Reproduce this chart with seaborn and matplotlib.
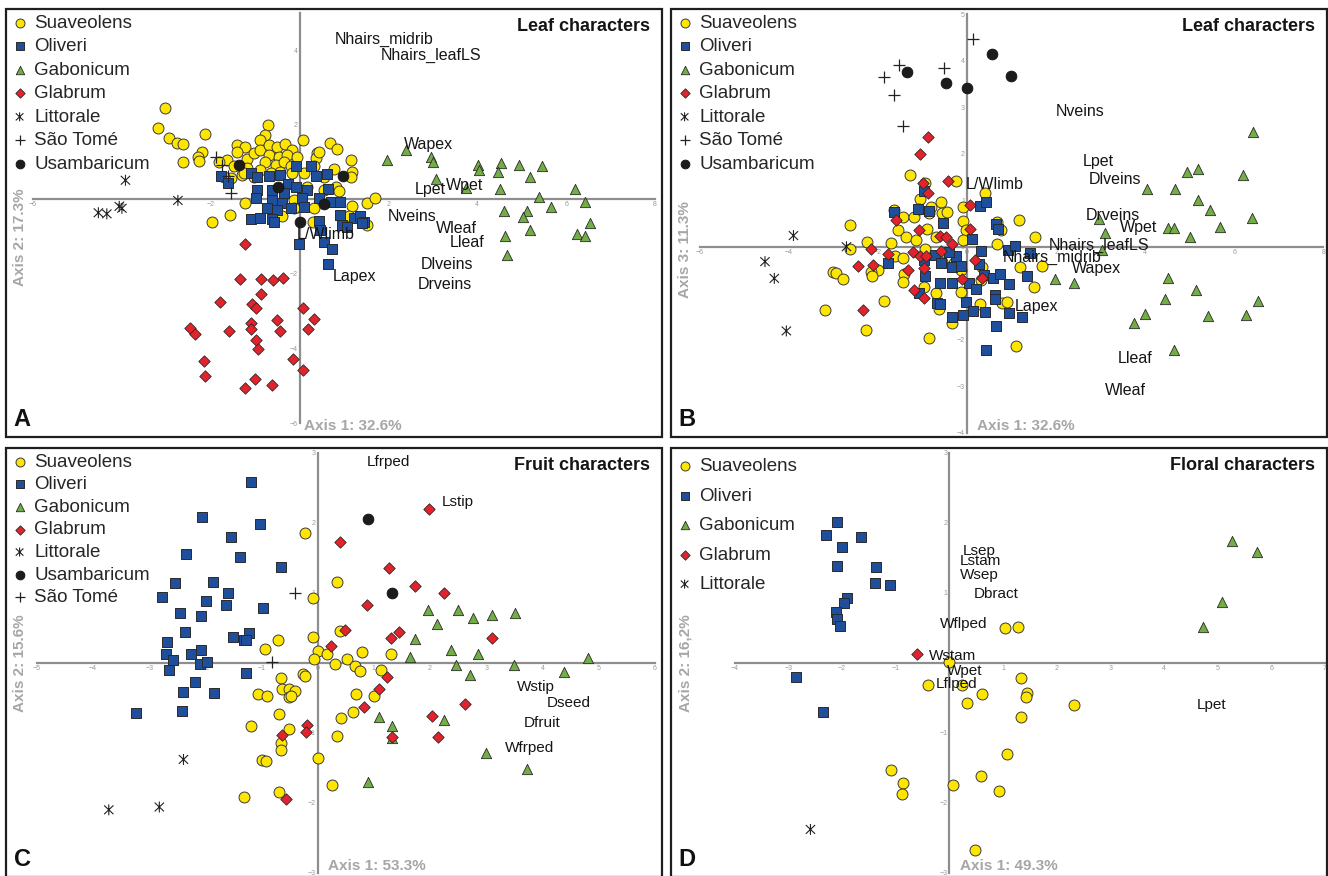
import numpy as np
import pandas as pd
import matplotlib.pyplot as plt
from matplotlib.patches import Rectangle
from matplotlib.path import Path
import seaborn as sns

# ---------------- panel A: leaf characters, axis 1 vs axis 2
a_suaveolens = [(-3.02, 2.46), (-3.19, 1.90), (-2.94, 1.63), (-2.77, 1.50), (-2.62, 1.48), (-2.63, 1.01),
                (-2.13, 1.75), (-2.19, 1.27), (-2.28, 1.14), (-2.26, 1.03), (-1.98, -0.60), (-1.57, -0.42),
                (-1.24, -0.11), (-0.71, 1.99), (-0.78, 1.72), (-0.89, 1.59), (-1.42, 1.46), (-1.22, 1.39),
                (-1.40, 1.28), (-1.63, 1.04), (-1.82, 1.01), (-1.48, 0.88), (-1.18, 1.07), (-1.03, 1.23),
                (-0.88, 1.32), (-0.69, 1.46), (-0.50, 1.41), (-0.32, 1.48), (-0.17, 1.32), (0.08, 1.59),
                (-0.69, 1.19), (-0.47, 1.14), (-0.28, 1.19), (-0.05, 1.14), (-0.77, 1.01), (-0.54, 0.92),
                (-0.35, 1.01), (-0.20, 0.88), (-0.88, 0.79), (-1.18, 0.83), (-1.29, 0.65), (-1.03, 0.61),
                (-0.65, 0.70), (-0.43, 0.74), (-0.17, 0.70), (0.10, 0.70), (0.40, 1.23), (0.36, 1.10),
                (0.68, 1.52), (0.85, 1.34), (0.44, 1.28), (0.32, 0.88), (0.77, 0.80), (1.15, 1.04),
                (1.17, 0.74), (1.16, 0.61), (0.55, 0.59), (0.81, 0.34), (0.89, 0.21), (1.19, -0.18),
                (1.52, -0.11), (1.69, 0.03), (1.52, -0.69), (1.11, -0.45), (0.32, -0.24), (-0.05, -0.20),
                (-0.13, -0.02), (-0.39, -0.46), (0.17, 0.34), (0.55, 0.25), (0.10, 0.21), (-1.25, 0.70),
                (-1.55, 0.56), (-1.70, 0.61), (0.30, -0.62), (-0.13, -0.24)]
a_oliveri = [(-1.78, 0.63), (-1.61, 0.45), (-1.10, 0.71), (-0.95, 0.59), (-0.68, 0.63), (-0.43, 0.65),
             (-0.26, 0.41), (-0.09, 0.89), (0.25, 0.88), (0.36, 0.63), (0.62, 0.68), (-0.95, 0.25),
             (-0.97, 0.03), (-0.62, 0.25), (-0.35, 0.16), (-0.09, 0.34), (0.17, 0.25), (0.65, 0.27),
             (-0.62, -0.02), (-0.39, -0.09), (0.06, 0.03), (0.44, 0.03), (0.70, -0.06), (0.92, -0.06),
             (-0.73, -0.24), (-0.50, -0.29), (-0.20, -0.24), (0.10, -0.20), (-1.10, -0.54), (-0.88, -0.49),
             (-0.62, -0.54), (-0.58, -0.60), (0.44, -0.57), (0.92, -0.42), (0.96, -0.69), (1.22, -0.51),
             (1.35, -0.46), (1.44, -0.60), (-0.02, -1.20), (0.55, -1.15), (0.73, -1.34), (0.63, -1.74),
             (0.46, -0.82), (1.06, -0.73), (1.41, -0.63)]
a_gabonicum = [(1.97, 1.04), (2.40, 1.32), (2.96, 1.14), (3.00, 0.99), (3.08, 0.54), (3.75, 0.29),
               (4.01, 0.92), (4.04, 0.79), (4.53, 0.96), (4.46, 0.74), (4.95, 0.91), (5.45, 0.89),
               (5.18, 0.61), (4.52, 0.27), (5.39, 0.07), (6.21, 0.27), (6.42, -0.06), (5.66, -0.20),
               (5.13, -0.31), (4.61, -0.32), (5.02, -0.47), (5.18, -0.82), (4.63, -0.98), (4.67, -1.49),
               (6.53, -0.63), (6.25, -0.93), (6.43, -0.98)]
a_glabrum = [(-1.23, -1.20), (-1.35, -2.14), (-0.87, -2.13), (-0.59, -2.16), (-0.37, -2.11), (-0.87, -2.55),
             (-1.79, -2.76), (-1.06, -2.80), (-0.98, -2.92), (0.07, -2.90), (-0.50, -3.23), (0.33, -3.21),
             (-2.47, -3.44), (-2.35, -3.61), (-1.59, -3.52), (-1.10, -3.32), (-1.10, -3.47), (-0.45, -3.54),
             (0.18, -3.48), (-0.99, -3.77), (-0.94, -4.00), (-2.16, -4.32), (-2.12, -4.74), (-0.14, -4.28),
             (0.07, -4.57), (-1.01, -4.81), (-1.22, -5.06), (-0.63, -4.97)]
a_littorale = [(-3.92, 0.51), (-2.74, -0.03), (-4.06, -0.19), (-4.00, -0.24), (-4.53, -0.36), (-4.34, -0.39)]
a_saotome = [(-1.88, 1.14), (-1.75, 0.92), (-1.62, 0.62), (-1.55, 0.18)]
a_usambaricum = [(-1.37, 0.91), (-0.48, 0.32), (0.98, 0.62), (0.56, -0.12), (0.0, -0.60)]
a_var_names = ['Nhairs_midrib', 'Nhairs_leafLS', 'Wapex', 'Lpet', 'Wpet', 'Nveins', 'Wleaf', 'Lleaf',
               'Dlveins', 'Drveins', 'L/Wlimb', 'Lapex']
a_var_x = [0.79, 1.82, 2.34, 2.59, 3.29, 1.99, 3.08, 3.37, 2.72, 2.66, -0.07, 0.75]
a_var_y = [4.29, 3.86, 1.46, 0.25, 0.36, -0.46, -0.79, -1.15, -1.74, -2.29, -0.94, -2.07]

# ---------------- panel B: leaf characters, axis 1 vs axis 3
b_suaveolens = [(-1.28, 1.55), (-0.24, 1.42), (-0.94, 1.38), (0.41, 1.15), (-1.06, 1.02), (-0.59, 0.96),
                (-0.10, 0.86), (-1.65, 0.79), (-1.43, 0.64), (-1.19, 0.63), (-0.86, 0.72), (-0.57, 0.72),
                (-0.45, 0.75), (-0.10, 0.55), (-0.03, 0.36), (0.67, 0.54), (0.76, 0.36), (1.17, 0.57),
                (1.52, 0.20), (0.67, 0.05), (-2.64, 0.47), (-2.62, -0.04), (-2.25, 0.11), (-1.71, 0.07),
                (-1.55, 0.37), (-1.38, 0.20), (-1.14, 0.14), (-0.90, 0.39), (-0.71, 0.21), (-0.10, 0.14),
                (-1.62, -0.21), (-1.43, -0.25), (-2.00, -0.49), (-2.17, -0.54), (-2.14, -0.63), (-3.02, -0.54),
                (-2.95, -0.57), (-2.78, -0.69), (-1.86, -1.17), (-3.19, -1.36), (-2.28, -1.79), (-0.86, -1.97),
                (1.09, -2.13), (-0.33, -1.65), (-0.64, -1.33), (-0.71, -1.00), (-0.98, -0.86), (-1.41, -0.59),
                (-1.43, -0.75), (-0.14, -0.97), (0.29, -1.23), (0.79, -1.22), (0.90, -1.18), (0.33, -0.43),
                (0.31, -0.72), (1.19, -0.43), (1.68, -0.41), (1.51, -0.87), (-0.29, -0.36), (-0.14, -0.50),
                (-0.57, -0.32), (-0.95, -0.04), (-0.81, 0.86), (-1.09, 0.82)]
b_oliveri = [(-0.98, 1.20), (-1.64, 0.74), (-1.11, 0.81), (-0.86, 0.77), (-0.54, 0.50), (0.29, 0.87),
             (0.43, 0.96), (0.64, 0.49), (0.69, 0.39), (0.10, 0.16), (0.31, -0.09), (-0.24, -0.20),
             (-0.41, -0.11), (-0.73, -0.18), (-0.98, -0.29), (-0.59, -0.36), (-0.33, -0.43), (-0.14, -0.41),
             (0.26, -0.38), (-1.78, -0.36), (-0.94, -0.64), (-0.60, -0.77), (-0.35, -0.79), (0.05, -0.79),
             (0.19, -0.90), (0.38, -0.61), (0.57, -0.67), (0.73, -0.59), (0.93, -0.80), (1.35, -0.63),
             (0.92, -0.07), (1.08, 0.01), (1.40, -0.13), (-1.09, -1.00), (-0.67, -1.22), (-0.62, -1.23),
             (-0.02, -1.18), (0.14, -1.38), (0.39, -1.41), (0.62, -1.04), (0.62, -1.13), (0.93, -1.43),
             (1.24, -1.50), (-0.10, -1.47), (-0.33, -1.50), (0.64, -1.70), (0.43, -2.22)]
b_gabonicum = [(6.42, 2.47), (4.94, 1.61), (5.19, 1.66), (6.20, 1.54), (4.04, 1.25), (4.67, 1.24),
               (5.19, 1.00), (5.45, 0.80), (6.39, 0.61), (2.96, 0.59), (3.09, 0.29), (4.52, 0.41),
               (4.65, 0.41), (5.68, 0.42), (5.01, 0.20), (3.02, -0.07), (1.97, -0.69), (2.41, -0.77),
               (4.51, -0.68), (5.13, -0.93), (4.44, -1.12), (6.53, -1.17), (3.99, -1.45), (5.40, -1.49),
               (6.26, -1.47), (3.75, -1.65), (4.64, -2.23)]
b_glabrum = [(-0.88, 2.35), (-1.05, 1.99), (-1.00, 1.36), (-0.87, 1.16), (-0.43, 1.41), (0.07, 0.90),
             (0.07, 0.39), (-1.59, 0.57), (-1.08, 0.37), (-0.62, 0.24), (-0.48, 0.21), (-0.35, 0.05),
             (-0.59, -0.09), (-2.15, -0.04), (-1.78, -0.16), (-1.22, -0.11), (-1.07, -0.19), (-0.93, -0.21),
             (-2.44, -0.41), (-2.11, -0.39), (-1.33, -0.49), (-0.96, -0.45), (0.17, -0.29), (0.33, -0.68),
             (-0.12, -0.70), (-1.19, -0.92), (-0.98, -1.10), (-2.34, -1.37)]
b_littorale = [(-3.90, 0.24), (-2.71, 0.0), (-4.54, -0.32), (-4.33, -0.68), (-4.06, -1.81)]
b_saotome = [(0.14, 4.46), (-1.54, 3.90), (-1.87, 3.65), (-0.53, 3.85), (-1.64, 3.26), (-1.45, 2.60)]
b_usambaricum = [(0.55, 4.15), (-1.36, 3.76), (-0.48, 3.51), (0.0, 3.42), (0.98, 3.68)]
b_var_names = ['Nveins', 'Lpet', 'Dlveins', 'L/Wlimb', 'Drveins', 'Wpet', 'Nhairs_leafLS', 'Nhairs_midrib',
               'Wapex', 'Lapex', 'Lleaf', 'Wleaf']
b_var_x = [2.00, 2.60, 2.73, -0.03, 2.66, 3.44, 1.84, 0.81, 2.35, 1.07, 3.38, 3.09]
b_var_y = [2.90, 1.83, 1.45, 1.33, 0.68, 0.41, 0.03, -0.23, -0.47, -1.28, -2.41, -3.10]

# ---------------- panel C: fruit characters
c_suaveolens = [(-0.23, 1.85), (0.35, 1.16), (-0.09, 0.92), (0.39, 0.45), (-0.09, 0.37), (-0.70, 0.33),
                (-0.94, 0.20), (0.01, 0.17), (0.16, 0.12), (-0.07, 0.06), (0.52, 0.06), (0.78, 0.15),
                (1.30, 0.12), (0.30, -0.02), (0.66, -0.04), (0.76, -0.11), (1.12, -0.10), (-0.27, -0.16),
                (-0.23, -0.19), (-0.66, -0.22), (-0.64, -0.37), (-0.51, -0.37), (-0.41, -0.40), (-0.52, -0.49),
                (-0.47, -0.48), (-1.06, -0.44), (-0.91, -0.48), (0.69, -0.45), (1.00, -0.48), (-0.69, -0.73),
                (0.63, -0.70), (0.42, -0.79), (-1.18, -0.90), (-0.51, -0.94), (0.35, -1.05), (-0.66, -1.14),
                (-0.66, -1.24), (0.01, -1.36), (-1.00, -1.39), (-0.92, -1.40), (0.26, -1.74), (-0.69, -1.84),
                (-1.31, -1.91)]
c_oliveri = [(-1.19, 2.58), (-2.06, 2.08), (-1.03, 1.98), (-1.55, 1.80), (-2.34, 1.56), (-1.38, 1.51),
             (-0.66, 1.37), (-2.54, 1.14), (-1.86, 1.16), (-1.60, 1.00), (-2.78, 0.94), (-1.99, 0.88),
             (-1.63, 0.83), (-0.97, 0.78), (-2.46, 0.71), (-2.08, 0.67), (-2.36, 0.44), (-1.51, 0.37),
             (-1.31, 0.33), (-1.23, 0.43), (-1.28, 0.32), (-2.69, 0.30), (-2.07, 0.19), (-2.25, 0.13),
             (-2.70, 0.12), (-2.58, 0.04), (-2.10, -0.01), (-1.97, 0.01), (-2.64, -0.10), (-1.28, -0.14),
             (-2.19, -0.27), (-2.39, -0.42), (-1.85, -0.43), (-3.24, -0.71), (-2.41, -0.69)]
c_gabonicum = [(1.96, 0.75), (2.49, 0.75), (2.76, 0.64), (3.11, 0.68), (3.52, 0.71), (2.13, 0.56),
               (1.73, 0.34), (2.38, 0.19), (2.85, 0.13), (1.64, 0.08), (2.47, -0.03), (3.49, -0.03),
               (4.81, 0.07), (4.39, -0.13), (2.71, -0.18), (1.10, -0.77), (2.25, -0.81), (1.33, -0.90),
               (1.33, -1.07), (3.00, -1.29), (3.72, -1.52), (0.90, -1.70)]
c_glabrum = [(1.99, 2.20), (0.39, 1.73), (1.27, 1.35), (1.74, 1.10), (2.25, 1.00), (0.88, 0.82),
             (0.48, 0.47), (1.45, 0.44), (1.31, 0.36), (3.11, 0.36), (0.23, 0.24), (1.24, -0.20),
             (1.10, -0.38), (2.62, -0.59), (0.83, -0.63), (2.04, -0.76), (-0.19, -0.89), (-0.20, -0.99),
             (-0.63, -1.03), (1.33, -1.06), (2.15, -1.06), (-0.57, -1.95)]
c_littorale = [(-2.39, -1.38), (-2.82, -2.06), (-3.72, -2.10)]
c_usambaricum = [(0.90, 2.06), (1.33, 1.00)]
c_saotome = [(-0.41, 1.00), (-0.81, 0.01)]
c_var_names = ['Lfrped', 'Lstip', 'Wstip', 'Dseed', 'Dfruit', 'Wfrped']
c_var_x = [0.87, 2.20, 3.54, 4.07, 3.67, 3.33]
c_var_y = [2.87, 2.30, -0.35, -0.58, -0.86, -1.21]

# ---------------- panel D: floral characters
d_suaveolens = [(1.03, 0.50), (1.27, 0.51), (0.0, 0.01), (-0.40, -0.31), (0.24, -0.31), (1.33, -0.21),
                (0.61, -0.44), (1.44, -0.43), (1.42, -0.49), (0.32, -0.58), (2.33, -0.60), (1.34, -0.78),
                (1.08, -1.30), (-1.09, -1.53), (-0.87, -1.71), (0.59, -1.61), (0.06, -1.75), (-0.89, -1.88),
                (0.92, -1.83), (0.47, -2.68)]
d_oliveri = [(-2.09, 2.01), (-2.30, 1.82), (-1.64, 1.80), (-2.01, 1.65), (-2.10, 1.39), (-1.37, 1.37),
             (-1.39, 1.14), (-1.11, 1.11), (-1.90, 0.92), (-1.97, 0.86), (-2.12, 0.73), (-2.10, 0.62),
             (-2.04, 0.52), (-2.86, -0.20), (-2.35, -0.70)]
d_gabonicum = [(5.27, 1.74), (5.73, 1.59), (5.09, 0.87), (4.72, 0.51)]
d_glabrum = [(-0.60, 0.13)]
d_littorale = [(-2.59, -2.38)]
d_var_names = ['Lsep', 'Lstam', 'Wsep', 'Dbract', 'Wflped', 'Wstam', 'Wpet', 'Lflped', 'Lpet']
d_var_x = [0.25, 0.19, 0.19, 0.46, -0.17, -0.38, -0.04, -0.26, 4.61]
d_var_y = [1.60, 1.45, 1.25, 0.99, 0.55, 0.10, -0.11, -0.30, -0.60]

# asterisk used for Littorale: an X crossed by a vertical stroke
star = Path([(-0.85, -0.8), (0.85, 0.8), (-0.85, 0.8), (0.85, -0.8), (0, -1), (0, 1)],
            [Path.MOVETO, Path.LINETO, Path.MOVETO, Path.LINETO, Path.MOVETO, Path.LINETO])

STYLE = {
    'Suaveolens': dict(marker='o', color='#ffe600', s=62, edgecolor='#3a3a3a', linewidth=0.7),
    'Oliveri': dict(marker='s', color='#1f4e9b', s=62, edgecolor='#2a2a2a', linewidth=0.7),
    'Gabonicum': dict(marker='^', color='#72ad45', s=55, edgecolor='#2a2a2a', linewidth=0.6),
    'Glabrum': dict(marker='D', color='#e3222b', s=34, edgecolor='#2a2a2a', linewidth=0.6),
    'Littorale': dict(marker=star, color='none', s=62, edgecolor='#222222', linewidth=0.8),
    'São Tomé': dict(marker='+', color='#222222', s=75, linewidth=0.9),
    'Usambaricum': dict(marker='o', color='#1c1c1c', s=60, edgecolor='#111111', linewidth=0.6),
}

sns.set_style('white')
plt.rcParams['font.family'] = ['Liberation Sans', 'DejaVu Sans']

fig = plt.figure(figsize=(13.28, 8.76), dpi=100)
W, H = 1328, 876


def panel_axes(left, top, right, bottom):
    return fig.add_axes([left / W, 1 - bottom / H, (right - left) / W, (bottom - top) / H])


def draw_panel(ax, groups, var_names, var_x, var_y, var_size, title, letter, xlab, xlab_x, ylab, ylab_y,
               xlim, ylim, xticks, yticks, xbounds, ybounds, leg_spacing, leg_top=1.0):
    frames = [pd.DataFrame(pts, columns=['x', 'y']).assign(species=sp) for sp, pts in groups]
    df = pd.concat(frames, ignore_index=True)
    for sp, _ in groups:
        sns.scatterplot(data=df[df.species == sp], x='x', y='y', ax=ax, label=sp, zorder=3, **STYLE[sp])

    for name, x, y in zip(var_names, var_x, var_y):
        ax.text(x, y, name, ha='left', va='center', fontsize=var_size, color='#151515', zorder=5)

    ax.set_xlim(*xlim)
    ax.set_ylim(*ylim)
    ax.set_xlabel('')
    ax.set_ylabel('')
    for side in ['top', 'right']:
        ax.spines[side].set_visible(False)
    ax.spines['left'].set_position(('data', 0))
    ax.spines['bottom'].set_position(('data', 0))
    ax.spines['bottom'].set_bounds(*xbounds)
    ax.spines['left'].set_bounds(*ybounds)
    for side in ['left', 'bottom']:
        ax.spines[side].set_color('#8e8e8e')
        ax.spines[side].set_linewidth(1.6)
    ax.set_xticks(xticks)
    ax.set_yticks(yticks)
    ax.tick_params(length=0, labelsize=5, labelcolor='#9a9a9a', pad=1.5)

    ax.add_patch(Rectangle((0, 0), 1, 1, transform=ax.transAxes, fill=False, ec='#1e1e1e',
                           lw=1.6, clip_on=False, zorder=10))

    handles, labels = ax.get_legend_handles_labels()
    ax.legend(handles, labels, loc='upper left', bbox_to_anchor=(0.0, leg_top), borderaxespad=0,
              borderpad=0.3, frameon=False, fontsize=13.5, handlelength=0.85, handletextpad=0.35,
              labelspacing=leg_spacing, markerscale=0.82)

    ax.text(0.982, 0.96, title, transform=ax.transAxes, ha='right', va='center',
            fontsize=13, fontweight='bold', color='#151515')
    ax.text(0.012, 0.04, letter, transform=ax.transAxes, ha='left', va='center',
            fontsize=17, fontweight='bold', color='#111111')
    ax.text(xlab_x, 0.025, xlab, transform=ax.transAxes, ha='left', va='center',
            fontsize=11, fontweight='bold', color='#a6a6a6')
    ax.text(0.022, ylab_y, ylab, transform=ax.transAxes, ha='center', va='center', rotation=90,
            fontsize=11, fontweight='bold', color='#a6a6a6')


axA = panel_axes(6, 9, 662, 437)
draw_panel(axA, [('Suaveolens', a_suaveolens), ('Oliveri', a_oliveri), ('Gabonicum', a_gabonicum),
                 ('Glabrum', a_glabrum), ('Littorale', a_littorale), ('São Tomé', a_saotome),
                 ('Usambaricum', a_usambaricum)],
           a_var_names, a_var_x, a_var_y, 11.5, 'Leaf characters', 'A', 'Axis 1: 32.6%', 0.454,
           'Axis 2: 17.3%', 0.467, (-6.61, 8.16), (-6.37, 5.10), np.arange(-6, 9, 2), np.arange(-6, 5, 2),
           (-6, 8), (-6, 5.0), 0.34)

axB = panel_axes(671, 9, 1327, 437)
draw_panel(axB, [('Suaveolens', b_suaveolens), ('Oliveri', b_oliveri), ('Gabonicum', b_gabonicum),
                 ('Glabrum', b_glabrum), ('Littorale', b_littorale), ('São Tomé', b_saotome),
                 ('Usambaricum', b_usambaricum)],
           b_var_names, b_var_x, b_var_y, 11.5, 'Leaf characters', 'B', 'Axis 1: 32.6%', 0.466,
           'Axis 3: 11.3%', 0.437, (-6.65, 8.08), (-4.09, 5.11), np.arange(-6, 9, 2), np.arange(-4, 6, 1),
           (-6, 8), (-4, 5), 0.34)

axC = panel_axes(6, 448, 662, 877)
draw_panel(axC, [('Suaveolens', c_suaveolens), ('Oliveri', c_oliveri), ('Gabonicum', c_gabonicum),
                 ('Glabrum', c_glabrum), ('Littorale', c_littorale), ('Usambaricum', c_usambaricum),
                 ('São Tomé', c_saotome)],
           c_var_names, c_var_x, c_var_y, 11, 'Fruit characters', 'C', 'Axis 1: 53.3%', 0.491,
           'Axis 2: 15.6%', 0.499, (-5.55, 6.13), (-3.06, 3.07), np.arange(-5, 7, 1), np.arange(-3, 4, 1),
           (-5, 6), (-3, 3), 0.29)

axD = panel_axes(671, 448, 1327, 877)
draw_panel(axD, [('Suaveolens', d_suaveolens), ('Oliveri', d_oliveri), ('Gabonicum', d_gabonicum),
                 ('Glabrum', d_glabrum), ('Littorale', d_littorale)],
           d_var_names, d_var_x, d_var_y, 11, 'Floral characters', 'D', 'Axis 1: 49.3%', 0.44,
           'Axis 2: 16,2%', 0.499, (-5.19, 7.04), (-3.06, 3.07), np.arange(-4, 8, 1), np.arange(-3, 4, 1),
           (-4, 7), (-3, 3), 0.66, leg_top=0.99)

fig.savefig('out.png', dpi=100, facecolor='white')
